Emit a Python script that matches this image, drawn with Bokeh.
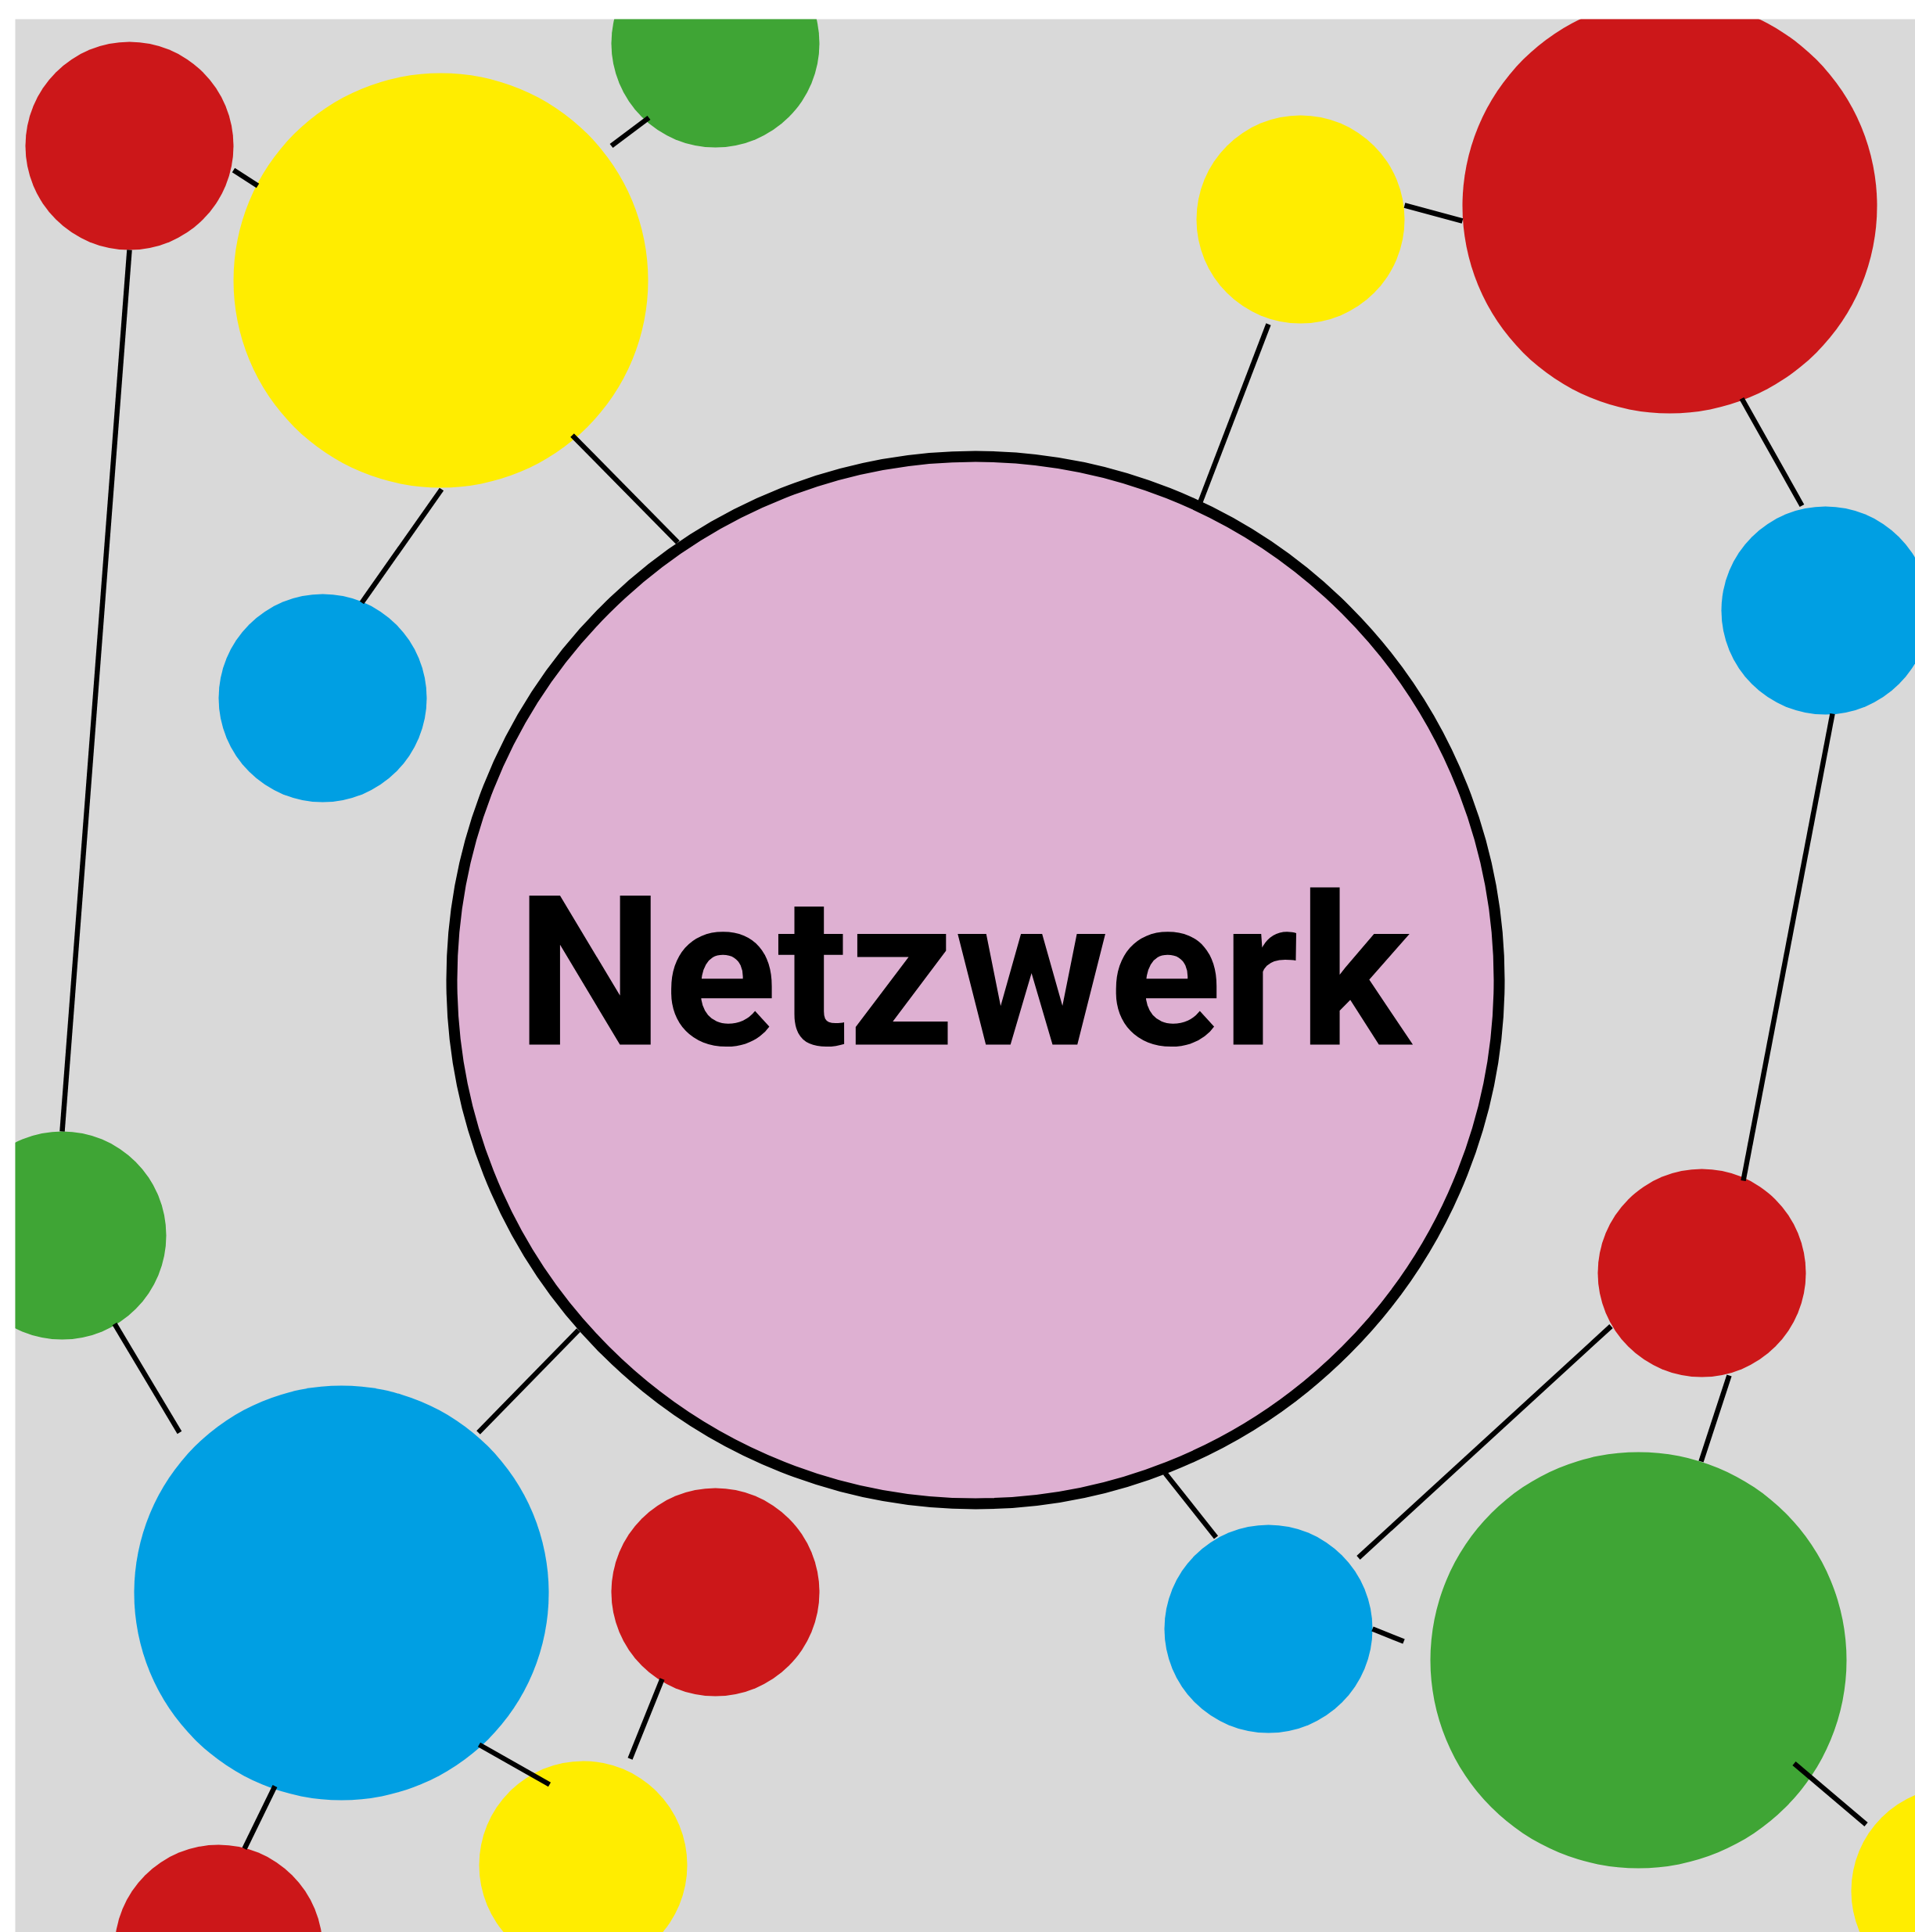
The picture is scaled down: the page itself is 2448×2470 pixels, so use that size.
from bokeh.plotting import figure
from bokeh.models import Range1d
from bokeh.core.properties import value
from bokeh.embed import file_html
from bokeh.resources import INLINE

# Nodes (centre x, centre y, radius, colour) in picture pixel units
node_x = [165, 563, 914, 412, 1662, 2134, 2333, 79, 2175, 436, 914, 1621, 2094, 279, 745, 2499]
node_y = [186, 358, 55, 892, 280, 263, 780, 1579, 1627, 2036, 2035, 2082, 2122, 2491, 2384, 2417]
node_r = [133, 265, 133, 133, 133, 265, 133, 133, 133, 265, 133, 133, 266, 133, 133, 133]
node_c = ["#cc1719", "#ffed00", "#3fa535", "#009fe3", "#ffed00", "#cc1719", "#009fe3", "#3fa535",
          "#cc1719", "#009fe3", "#cc1719", "#009fe3", "#3fa535", "#cc1719", "#ffed00", "#ffed00"]

# Central node
hub_x = [1246.5]
hub_y = [1252.5]
hub_r = [669.5]
hub_label = ["Netzwerk"]

# Edges (segment end points)
edge_x0 = [298, 781, 165, 564, 731, 1621, 1795, 2226, 2342, 146, 739, 612, 351, 846, 1489, 2059, 1754, 2210, 2293]
edge_y0 = [217, 186, 319, 625, 556, 414, 262, 509, 912, 1692, 1700, 2230, 2283, 2146, 1883, 1695, 2082, 1758, 2254]
edge_x1 = [329, 829, 79, 462, 866, 1534, 1869, 2303, 2228, 229, 611, 702, 312, 805, 1554, 1736, 1794, 2174, 2385]
edge_y1 = [237, 150, 1446, 770, 693, 641, 282, 646, 1509, 1831, 1831, 2281, 2363, 2248, 1965, 1991, 2098, 1868, 2332]

W, H = 2448, 2470
L, T = 19, 24

p = figure(width=W, height=H, output_backend="svg", toolbar_location=None,
           x_range=Range1d(L, W), y_range=Range1d(H, T),
           x_axis_type=None, y_axis_type=None,
           min_border_left=L, min_border_top=T, min_border_right=0, min_border_bottom=0)
p.background_fill_color = "#d9d9d9"
p.border_fill_color = "white"
p.outline_line_color = None
p.grid.visible = False

p.circle(x=node_x, y=node_y, radius=node_r, fill_color=node_c, line_color=None)
p.circle(x=hub_x, y=hub_y, radius=hub_r, fill_color="#deb0d2", line_color="black", line_width=14)
p.segment(x0=edge_x0, y0=edge_y0, x1=edge_x1, y1=edge_y1, line_color="black", line_width=6.5)

p.text(x=[1231], y=[1243], text=hub_label, text_font=value("Roboto"),
       text_font_style="bold", text_font_size="268px", text_align="center",
       text_baseline="alphabetic", text_color="black")

open("out.html", "w").write(file_html(p, INLINE))
